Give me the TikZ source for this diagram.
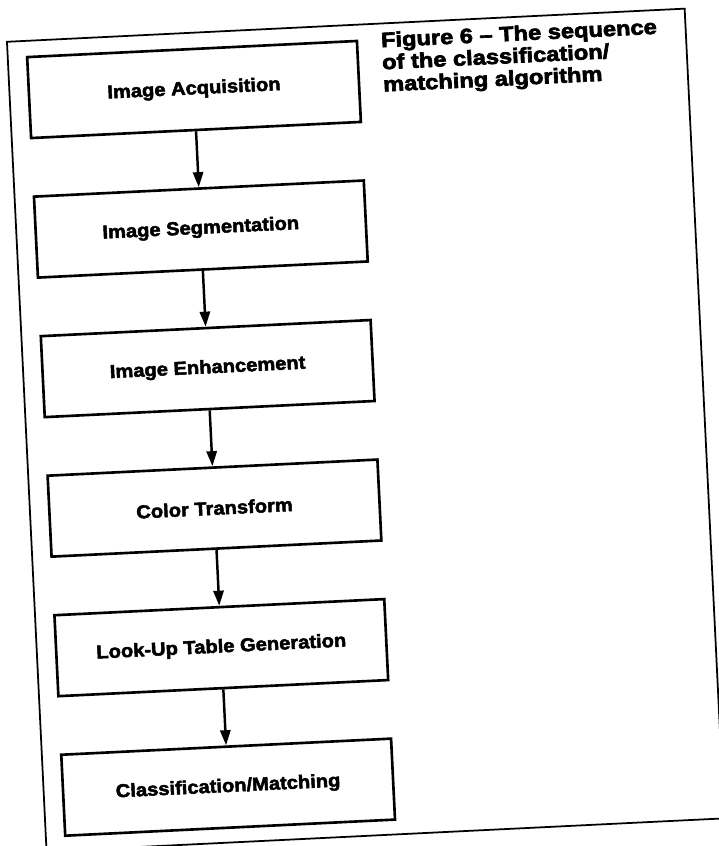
\documentclass[tikz,border=0pt]{standalone}
\usepackage{fontspec}
\newfontfamily\heavyfont[BoldFeatures={FakeBold=2.6,FakeStretch=1.08}]{Liberation Sans}
\newfontfamily\blackfont[BoldFeatures={FakeBold=3.2,FakeStretch=1.14}]{Liberation Sans}
\usetikzlibrary{arrows.meta}
\begin{document}
\begin{tikzpicture}[x=0.01cm,y=-0.01cm,
  stepbox/.style={draw, line width=0.75pt, minimum width=3.3cm, minimum height=0.81cm,
    inner sep=0pt, transform shape,
    font=\heavyfont\bfseries\fontsize{5.3pt}{6pt}\selectfont},
  flow/.style={line width=0.7pt, -{Triangle[length=4.3pt,width=2.9pt]}},
  captext/.style={anchor=north west, align=left, inner sep=0pt, transform shape,
    font=\blackfont\bfseries\fontsize{5.9pt}{6.3pt}\selectfont},
  frameline/.style={line width=0.5pt}
  ]
\useasboundingbox (0,0) rectangle (719,846);
\clip (0,0) rectangle (719,846);
\begin{scope}[rotate around={2.8:(360,423)}]
  \draw[frameline] (26,25) rectangle (704.5,835.7);
  \node[stepbox] (s1) at (210.5,81.8)  {Image Acquisition};
  \node[stepbox] (s2) at (210.5,221.5) {Image Segmentation};
  \node[stepbox] (s3) at (210.5,361.2) {Image Enhancement};
  \node[stepbox] (s4) at (210.5,500.9) {Color Transform};
  \node[stepbox] (s5) at (210.5,640.6) {Look-Up Table Generation};
  \node[stepbox] (s6) at (210.5,780.3) {Classification/Matching};
  \node[captext] (cap) at (399,33) {Figure 6 – The sequence\\of the classification/\\matching algorithm};
  \draw[flow] (s1.south) -- (s2.north);
  \draw[flow] (s2.south) -- (s3.north);
  \draw[flow] (s3.south) -- (s4.north);
  \draw[flow] (s4.south) -- (s5.north);
  \draw[flow] (s5.south) -- (s6.north);
\end{scope}
\end{tikzpicture}
\end{document}
